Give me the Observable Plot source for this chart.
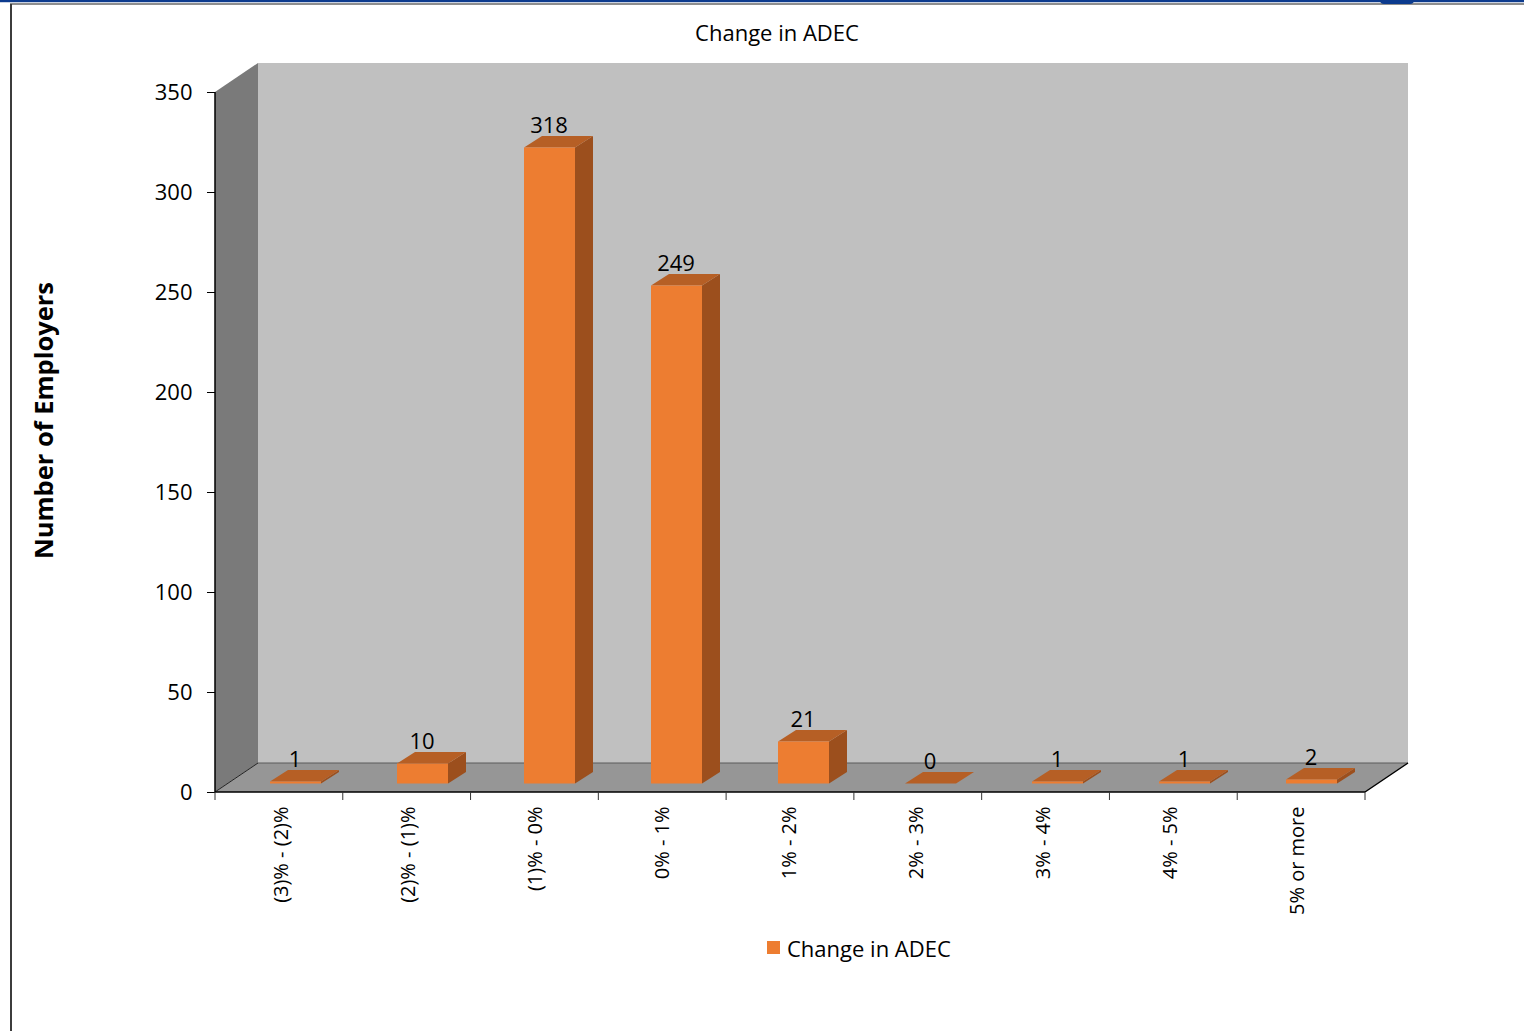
<!DOCTYPE html>
<html>
<head>
<meta charset="utf-8">
<script src="https://cdn.jsdelivr.net/npm/d3@7"></script>
<script src="https://cdn.jsdelivr.net/npm/@observablehq/plot@0.6"></script>
<style>
  html, body { margin: 0; padding: 0; background: #fff; }
  body { font-family: "Open Sans", "Noto Sans", sans-serif; color: #000; }
  #page { position: relative; width: 1524px; height: 1031px; overflow: hidden; }
  .chrome-top { position: absolute; left: 0; top: 0; width: 1524px; height: 2px; background: #0c3b8e; }
  .chrome-sub { position: absolute; left: 0; top: 2px; width: 1524px; height: 1px; background: #c9d2e3; }
  .chrome-line { position: absolute; left: 10px; top: 3px; width: 1514px; height: 2px; background: #8e8e8e; }
  .chrome-left { position: absolute; left: 10px; top: 4px; width: 2px; height: 1027px; background: #3c3c3c; }
  .chrome-tab { position: absolute; left: 1380px; top: 0; width: 34px; height: 4px; background: #0c3b8e; border-radius: 0 0 4px 4px; }
  #title { position: relative; height: 50px; }
  #title span { position: absolute; left: 777px; top: 32px; transform: translate(-50%, -50%); font-size: 22px; white-space: nowrap; }
  #chart { position: relative; height: 880px; }
  #chart svg { overflow: visible; display: block; }
  #legend { position: relative; height: 101px; }
  #legend .swatch { position: absolute; left: 767px; top: 11px; width: 13px; height: 13px; background: #ED7D31; }
  #legend .name { position: absolute; left: 787px; top: 18px; transform: translateY(-50%); font-size: 22px; white-space: nowrap; }
</style>
</head>
<body>
<div id="page">
  <div id="title"><span></span></div>
  <div id="chart"></div>
  <div id="legend"><div class="swatch"></div><div class="name"></div></div>
  <div class="chrome-top"></div>
  <div class="chrome-sub"></div>
  <div class="chrome-line"></div>
  <div class="chrome-left"></div>
  <div class="chrome-tab"></div>
</div>
<script>
// Distribution of employers by change in ADEC
const chartTitle = "Change in ADEC";
const seriesName = "Change in ADEC";
const yTitle = "Number of Employers";
const categories = ["(3)% - (2)%", "(2)% - (1)%", "(1)% - 0%", "0% - 1%", "1% - 2%", "2% - 3%", "3% - 4%", "4% - 5%", "5% or more"];
const employers = [1, 10, 318, 249, 21, 0, 1, 1, 2];
const yTicks = [0, 50, 100, 150, 200, 250, 300, 350];

const data = categories.map((category, i) => ({category, value: employers[i]}));

// Pixel offsets of the pseudo-3D box
const WALL = [43, -29];       // depth of floor and side wall
const BAR_FRONT = [13, -8.5]; // bar front face sits partway back on the floor
const BAR_BACK = [31, -20];   // bar back face

const colors = {
  back: "#c0c0c0",
  side: "#7a7a7a",
  floor: "#969696",
  front: "#ED7D31",
  top: "#b65f25",
  right: "#9c4f1d"
};

const poly = (pts) => "M" + pts.map((p) => p.join(",")).join("L") + "Z";
const seg = (a, b) => `M${a[0]},${a[1]}L${b[0]},${b[1]}`;

// Back wall, side wall and floor of the box
function walls(index, scales, values, dims) {
  const y = scales.y;
  const left = dims.marginLeft;
  const right = dims.width - dims.marginRight;
  const yTop = y(d3.max(yTicks));
  const yBase = y(0);
  const [wx, wy] = WALL;
  const g = d3.create("svg:g");
  g.append("path").attr("fill", colors.back)
    .attr("d", poly([[left + wx, yTop + wy], [right + wx, yTop + wy], [right + wx, yBase + wy], [left + wx, yBase + wy]]));
  g.append("path").attr("fill", colors.side)
    .attr("d", poly([[left, yTop], [left + wx, yTop + wy], [left + wx, yBase + wy], [left, yBase]]));
  g.append("path").attr("fill", colors.floor)
    .attr("d", poly([[left, yBase], [right, yBase], [right + wx, yBase + wy], [left + wx, yBase + wy]]));
  // edges
  g.append("path").attr("stroke", "#5a5a5a").attr("stroke-width", 1).attr("fill", "none")
    .attr("d", seg([left + wx, yBase + wy], [right + wx, yBase + wy]));
  g.append("path").attr("stroke", "#222").attr("stroke-width", 1).attr("fill", "none")
    .attr("d", seg([left, yBase], [left + wx, yBase + wy]));
  g.append("path").attr("stroke", "#000").attr("stroke-width", 1.5).attr("fill", "none")
    .attr("d", seg([left, yBase], [right, yBase]) + seg([right, yBase], [right + wx, yBase + wy]) + seg([left, yTop], [left, yBase]));
  // category boundary ticks
  const n = categories.length;
  const step = (right - left) / n;
  const ticks = g.append("g").attr("stroke", "#333").attr("stroke-width", 1);
  for (let i = 0; i <= n; ++i) {
    const xi = left + i * step;
    ticks.append("path").attr("d", seg([xi, yBase], [xi, yBase + 8]));
  }
  return g.node();
}

// Top and right-hand faces of each bar
function barDepth(index, scales, values, dims) {
  const {x, y} = scales;
  const n = categories.length;
  const step = (dims.width - dims.marginLeft - dims.marginRight) / n;
  const bw = x.bandwidth ? x.bandwidth() : step * 0.4;
  const g = d3.create("svg:g");
  const [fx, fy] = BAR_FRONT;
  const [bx, by] = BAR_BACK;
  for (const d of data) {
    const x1 = x(d.category), x2 = x1 + bw;
    const yv = y(d.value), y0 = y(0);
    if (d.value > 0) {
      g.append("path").attr("fill", colors.right)
        .attr("d", poly([[x2 + fx, yv + fy], [x2 + bx, yv + by], [x2 + bx, y0 + by], [x2 + fx, y0 + fy]]));
    }
    g.append("path").attr("fill", colors.top)
      .attr("d", poly([[x1 + fx, yv + fy], [x2 + fx, yv + fy], [x2 + bx, yv + by], [x1 + bx, yv + by]]));
  }
  return g.node();
}

const chart = Plot.plot({
  width: 1524,
  height: 880,
  marginTop: 42,
  marginBottom: 138,
  marginLeft: 215,
  marginRight: 159,
  style: {fontFamily: "'Open Sans', 'Noto Sans', sans-serif", fontSize: "22px", color: "#000", background: "transparent", overflow: "visible"},
  x: {domain: categories, paddingInner: 0.6, paddingOuter: 0.3, axis: null},
  y: {domain: [0, d3.max(yTicks)], ticks: yTicks, tickSize: 8, tickPadding: 15, label: null, line: false},
  marks: [
    walls,
    barDepth,
    Plot.barY(data, {x: "category", y: "value", fill: colors.front, dx: BAR_FRONT[0], dy: BAR_FRONT[1]}),
    Plot.text(data, {x: "category", y: "value", text: (d) => String(d.value), dx: BAR_FRONT[0] - 1, dy: BAR_FRONT[1] - 22, fontSize: 22, fill: "#000"}),
    Plot.text(categories, {x: (d) => d, frameAnchor: "bottom", rotate: -90, textAnchor: "end", dx: 5, dy: 14, fontSize: 20, fill: "#000"}),
    Plot.text([yTitle], {frameAnchor: "left", textAnchor: "middle", rotate: -90, dx: -171, dy: -22, fontSize: 25.5, fontWeight: "bold", fill: "#000"})
  ]
});

document.querySelector("#chart").append(chart);
document.querySelector("#title span").textContent = chartTitle;
document.querySelector("#legend .name").textContent = seriesName;
</script>
</body>
</html>
